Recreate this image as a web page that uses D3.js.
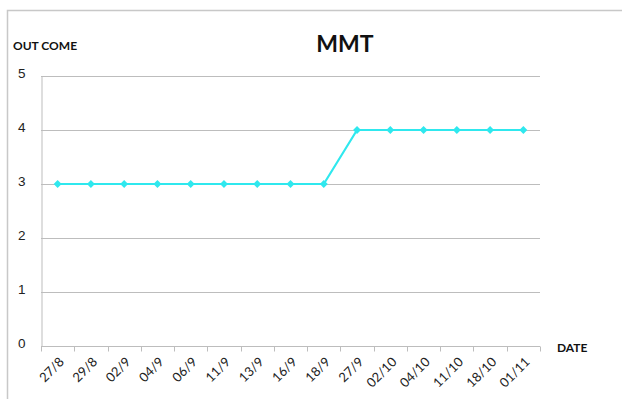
<!DOCTYPE html>
<html>
<head>
<meta charset="utf-8">
<script src="https://cdn.jsdelivr.net/npm/d3@7/dist/d3.min.js"></script>
<style>
  html, body { margin: 0; padding: 0; background: #fff; }
  svg { display: block; font-family: Lato, "Open Sans", sans-serif; }
</style>
</head>
<body>
<svg id="chart" width="622" height="399"></svg>
<script>
// Visit dates and the MMT outcome recorded on each
const dates = ["27/8", "29/8", "02/9", "04/9", "06/9", "11/9", "13/9", "16/9", "18/9",
               "27/9", "02/10", "04/10", "11/10", "18/10", "01/11"];
const outcome = [3, 3, 3, 3, 3, 3, 3, 3, 3, 4, 4, 4, 4, 4, 4];
const yTicks = [0, 1, 2, 3, 4, 5];

const title = "MMT";
const yTitle = "OUT COME";
const xTitle = "DATE";

const svg = d3.select("#chart");
const margin = { left: 41, right: 82, top: 76, bottom: 53 };
const W = 622, H = 399;

// chart frame
svg.append("path")
  .attr("d", `M7.5,${H + 2}V10.5H${W + 2}`)
  .attr("fill", "none")
  .attr("stroke", "#c8c8c8")
  .attr("stroke-width", 1.5);

const x = d3.scaleBand().domain(dates).range([margin.left, W - margin.right]).padding(0);
const y = d3.scaleLinear().domain([0, 5]).range([H - margin.bottom, margin.top]);

// horizontal gridlines
svg.append("g")
  .selectAll("line")
  .data(yTicks.filter(d => d > 0))
  .join("line")
  .attr("x1", margin.left).attr("x2", W - margin.right)
  .attr("y1", d => Math.round(y(d)) + 0.5).attr("y2", d => Math.round(y(d)) + 0.5)
  .attr("stroke", "#bdbdbd").attr("stroke-width", 1);

// y axis
const yAxis = svg.append("g")
  .attr("transform", `translate(${margin.left + 0.5},0)`)
  .call(d3.axisLeft(y).tickValues(yTicks).tickSize(0).tickPadding(16).tickFormat(d3.format("d")));
yAxis.select(".domain").attr("stroke", "#bdbdbd");
yAxis.selectAll("text").attr("font-size", 13.5).attr("fill", "#222").attr("dy", "0.1em");

// x axis with ticks on category boundaries
const xAxisG = svg.append("g").attr("transform", `translate(0,${Math.round(y(0)) + 0.5})`);
xAxisG.append("line")
  .attr("x1", margin.left).attr("x2", W - margin.right)
  .attr("stroke", "#bdbdbd");
const bounds = dates.map(d => x(d)).concat([x(dates[dates.length - 1]) + x.bandwidth()]);
xAxisG.selectAll("line.tick")
  .data(bounds)
  .join("line")
  .attr("class", "tick")
  .attr("x1", d => Math.round(d) + 0.5).attr("x2", d => Math.round(d) + 0.5)
  .attr("y1", 0).attr("y2", 5)
  .attr("stroke", "#bdbdbd");
xAxisG.selectAll("text")
  .data(dates)
  .join("text")
  .attr("transform", d => `translate(${x(d) + x.bandwidth() / 2 + 4},${13}) rotate(-45)`)
  .attr("text-anchor", "end")
  .attr("dy", "0.35em")
  .attr("font-size", 13)
  .attr("fill", "#222")
  .text(d => d);

// outcome line
const cx = d => x(d) + x.bandwidth() / 2;
const pts = dates.map((d, i) => [cx(d), y(outcome[i])]);
svg.append("path")
  .attr("d", d3.line()(pts))
  .attr("fill", "none")
  .attr("stroke", "#2fe8ee")
  .attr("stroke-width", 2.2);

svg.append("g")
  .selectAll("path")
  .data(pts)
  .join("path")
  .attr("d", d3.symbol(d3.symbolDiamond2, 40))
  .attr("transform", d => `translate(${d[0]},${d[1]})`)
  .attr("fill", "#2fe8ee");

// titles
svg.append("text")
  .attr("x", 345).attr("y", 52)
  .attr("text-anchor", "middle")
  .attr("font-size", 23).attr("font-weight", "bold")
  .attr("fill", "#111")
  .text(title);
svg.append("text")
  .attr("x", 13).attr("y", 50)
  .attr("font-size", 12).attr("font-weight", "bold")
  .attr("fill", "#111")
  .text(yTitle);
svg.append("text")
  .attr("x", 557).attr("y", 352)
  .attr("font-size", 12).attr("font-weight", "bold")
  .attr("fill", "#111")
  .text(xTitle);
</script>
</body>
</html>
